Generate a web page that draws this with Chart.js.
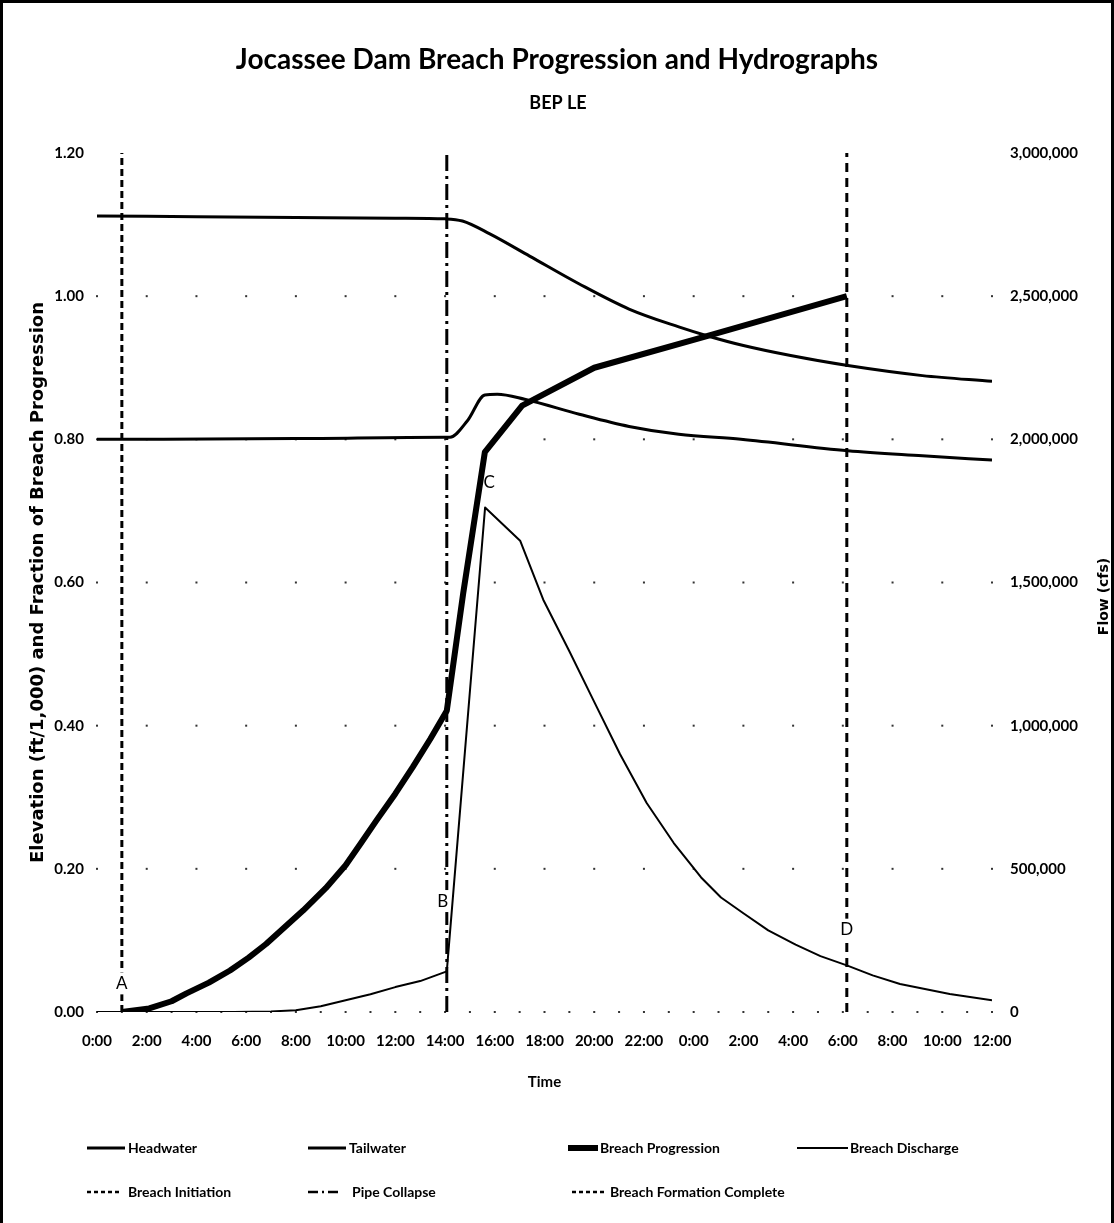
<!DOCTYPE html>
<html>
<head>
<meta charset="utf-8">
<title>Jocassee Dam Breach Progression and Hydrographs</title>
<script src="https://cdn.jsdelivr.net/npm/chart.js@4.4.1/dist/chart.umd.min.js"></script>
<style>
  html, body { margin: 0; padding: 0; background: #fff; }
  #wrap { position: relative; width: 1114px; height: 1223px; }
  #frame { position: absolute; left: 0; top: 0; width: 1114px; height: 1223px; box-sizing: border-box;
           border: 3px solid #000; border-bottom: none; pointer-events: none; }
</style>
</head>
<body>
<div id="wrap">
  <canvas id="chart" width="1114" height="1223"></canvas>
  <div id="frame"></div>
</div>
<script>
// hours from 0:00 on day 1 (36 h window)
var hwTime = [0, 4, 8, 12, 14, 14.7, 15.8, 17.4, 19.4, 21.4, 23.4, 24.6, 26, 27.9, 30.2, 33.2, 36];
var hwElev = [1.112, 1.111, 1.110, 1.109, 1.108, 1.105, 1.087, 1.056, 1.017, 0.982, 0.957, 0.944, 0.931, 0.917, 0.903, 0.889, 0.881];

var twTime = [0, 8, 14, 14.2, 14.9, 15.6, 16.1, 17.2, 19.4, 21.4, 23.4, 25.9, 30.2, 33.2, 36];
var twElev = [0.800, 0.801, 0.803, 0.803, 0.826, 0.862, 0.863, 0.856, 0.835, 0.818, 0.807, 0.800, 0.784, 0.777, 0.771];

var bpTime = [1.0, 2.1, 3.0, 3.6, 4.5, 5.35, 6.1, 6.8, 7.5, 8.3, 9.2, 10.0, 10.6, 11.25, 12.0, 12.7, 13.4, 14.07, 14.73, 15.6, 17.1, 20.0, 24.6, 30.16];
var bpFrac = [0, 0.005, 0.015, 0.026, 0.041, 0.058, 0.076, 0.095, 0.117, 0.142, 0.173, 0.205, 0.235, 0.268, 0.305, 0.342, 0.381, 0.421, 0.585, 0.782, 0.847, 0.900, 0.945, 1.0];

var dqTime = [0, 5.5, 7, 8, 9, 10, 11, 12, 13, 14.07, 15.61, 17.02, 17.95, 19.0, 19.96, 21.04, 22.11, 23.2, 24.3, 25.1, 26, 27, 28.1, 29.1, 30.16, 31.2, 32.3, 34.3, 36];
var dqFlow = [0, 0, 2000, 6000, 20000, 41000, 62000, 87000, 108000, 142000, 1762000, 1646000, 1440000, 1260000, 1090000, 900000, 730000, 590000, 470000, 400000, 345000, 285000, 235000, 195000, 163000, 128000, 98000, 63000, 41000];

var eventTime = [1.0, 14.07, 30.16];
var eventName = ['Breach Initiation', 'Pipe Collapse', 'Breach Formation Complete'];

var letterText = ['A', 'B', 'C', 'D'];
var letterTime = [1.0, 14.07, 15.61, 30.16];
var letterLevel = [0.04, 0.155, 0.74, 0.115];

var SANS = 'Lato, "DejaVu Sans Condensed", sans-serif';
var WIDE = '"DejaVu Sans", Verdana, sans-serif';

function pts(xs, ys) {
  return xs.map(function (x, i) { return { x: x, y: ys[i] }; });
}
function vline(t) {
  return [{ x: t, y: 0 }, { x: t, y: 1.2 }];
}

var eventDash = [[7, 4], [16, 5, 3, 5], [9, 6]];

var datasets = [
  { label: 'Headwater', data: pts(hwTime, hwElev), borderWidth: 3, cubicInterpolationMode: 'monotone', yAxisID: 'y' },
  { label: 'Tailwater', data: pts(twTime, twElev), borderWidth: 3, cubicInterpolationMode: 'monotone', yAxisID: 'y' },
  { label: 'Breach Progression', data: pts(bpTime, bpFrac), borderWidth: 6, yAxisID: 'y' },
  { label: 'Breach Discharge', data: pts(dqTime, dqFlow), borderWidth: 2, yAxisID: 'y2' }
];
eventTime.forEach(function (t, i) {
  datasets.push({ label: eventName[i], data: vline(t), borderWidth: 3, borderDash: eventDash[i], yAxisID: 'y' });
});
datasets.forEach(function (d) {
  d.borderColor = '#000';
  d.backgroundColor = '#000';
  d.pointRadius = 0;
  d.fill = false;
  d.borderCapStyle = 'butt';
  d.borderJoinStyle = 'round';
});

// sparse dotted gridlines, like the original
var dotGrid = {
  id: 'dotGrid',
  beforeDatasetsDraw: function (chart) {
    var x = chart.scales.x, y = chart.scales.y, ctx = chart.ctx;
    ctx.save();
    ctx.fillStyle = '#333';
    for (var v = 0.2; v < 1.19; v += 0.2) {
      var py = y.getPixelForValue(v);
      for (var h = 0; h <= 36; h += 2) ctx.fillRect(x.getPixelForValue(h) - 1, py - 1, 2, 2);
    }
    var p0 = y.getPixelForValue(0);
    for (var h2 = 0; h2 <= 36; h2 += 1) ctx.fillRect(x.getPixelForValue(h2) - 1, p0 - 1, 2, 2);
    ctx.restore();
  }
};

// A/B/C/D event letters; they break the marker lines they sit on
var letters = {
  id: 'letters',
  afterDatasetsDraw: function (chart) {
    var x = chart.scales.x, y = chart.scales.y, ctx = chart.ctx;
    var dx = [0, -4, 4, 0];
    ctx.save();
    ctx.font = '17px ' + SANS;
    ctx.textAlign = 'center';
    ctx.textBaseline = 'middle';
    letterText.forEach(function (s, i) {
      var px = x.getPixelForValue(letterTime[i]) + dx[i];
      var py = y.getPixelForValue(letterLevel[i]);
      if (s !== 'C') {
        ctx.fillStyle = '#fff';
        ctx.fillRect(px - 7, py - 11, 14, 22);
      }
      ctx.fillStyle = '#000';
      ctx.fillText(s, px, py);
    });
    ctx.restore();
  }
};

var titles = {
  id: 'titles',
  afterDraw: function (chart) {
    var ctx = chart.ctx;
    ctx.save();
    ctx.fillStyle = '#000';
    ctx.textAlign = 'center';
    ctx.textBaseline = 'middle';
    ctx.font = 'bold 28px ' + SANS;
    ctx.fillText('Jocassee Dam Breach Progression and Hydrographs', 557, 60);
    ctx.font = 'bold 18px ' + SANS;
    ctx.fillText('BEP LE', 558, 103);
    // right axis title reads bottom-to-top in the original
    var a = chart.scales.y2;
    ctx.translate(1104, (a.top + a.bottom) / 2 + 14);
    ctx.rotate(-Math.PI / 2);
    ctx.font = 'bold 14px ' + WIDE;
    ctx.fillText('Flow (cfs)', 0, 0);
    ctx.restore();
  }
};

// legend laid out in fixed columns, two rows
var legendSlots = [
  [87, 125, 128, 1148], [308, 346, 349, 1148], [568, 598, 600, 1148], [797, 848, 850, 1148],
  [87, 122, 128, 1192], [308, 340, 352, 1192], [572, 605, 610, 1192]
];
var legendBox = {
  id: 'legendBox',
  afterDraw: function (chart) {
    var ctx = chart.ctx;
    ctx.save();
    ctx.font = 'bold 14px ' + SANS;
    ctx.fillStyle = '#000';
    ctx.strokeStyle = '#000';
    ctx.textBaseline = 'middle';
    chart.data.datasets.forEach(function (d, i) {
      var s = legendSlots[i];
      ctx.lineWidth = i >= 4 ? 2.5 : d.borderWidth;
      ctx.setLineDash(i >= 4 ? (i === 5 ? [10, 4, 2, 4] : [4, 3]) : []);
      ctx.beginPath();
      ctx.moveTo(s[0], s[3]);
      ctx.lineTo(s[1], s[3]);
      ctx.stroke();
      ctx.fillText(d.label, s[2], s[3]);
    });
    ctx.restore();
  }
};

var tickFont = { family: SANS, size: 15, weight: 'bold' };

new Chart(document.getElementById('chart'), {
  type: 'line',
  data: { datasets: datasets },
  plugins: [dotGrid, letters, titles, legendBox],
  options: {
    responsive: false,
    animation: false,
    layout: { padding: { top: 153, left: 0, right: 0, bottom: 121 } },
    plugins: { legend: { display: false }, tooltip: { enabled: false } },
    elements: { line: { tension: 0 } },
    scales: {
      x: {
        type: 'linear', min: 0, max: 36,
        grid: { display: false, drawTicks: false },
        border: { display: false },
        ticks: {
          stepSize: 2, padding: 20, color: '#000', font: tickFont,
          maxRotation: 0, minRotation: 0, autoSkip: false,
          callback: function (v) { return (v % 24) + ':00'; }
        },
        title: { display: true, text: 'Time', color: '#000', font: { family: SANS, size: 15, weight: 'bold' }, padding: { top: 0, bottom: 11 } },
        afterFit: function (s) { s.height = 90; }
      },
      y: {
        position: 'left', min: 0, max: 1.2,
        grid: { display: false, drawTicks: false },
        border: { display: false },
        ticks: {
          stepSize: 0.2, padding: 13, color: '#000', font: tickFont,
          callback: function (v) { return v.toFixed(2); }
        },
        title: { display: true, text: 'Elevation (ft/1,000) and Fraction of Breach Progression', color: '#000',
                 font: { family: WIDE, size: 18, weight: 'bold' }, padding: { top: 28, bottom: 0 } },
        afterFit: function (s) { s.width = 97; }
      },
      y2: {
        position: 'right', min: 0, max: 3000000,
        grid: { display: false, drawTicks: false },
        border: { display: false },
        ticks: {
          stepSize: 500000, padding: 18, color: '#000', font: tickFont,
          callback: function (v) { return v.toLocaleString('en-US'); }
        },
        title: { display: false },
        afterFit: function (s) { s.width = 122; }
      }
    }
  }
});
</script>
</body>
</html>
